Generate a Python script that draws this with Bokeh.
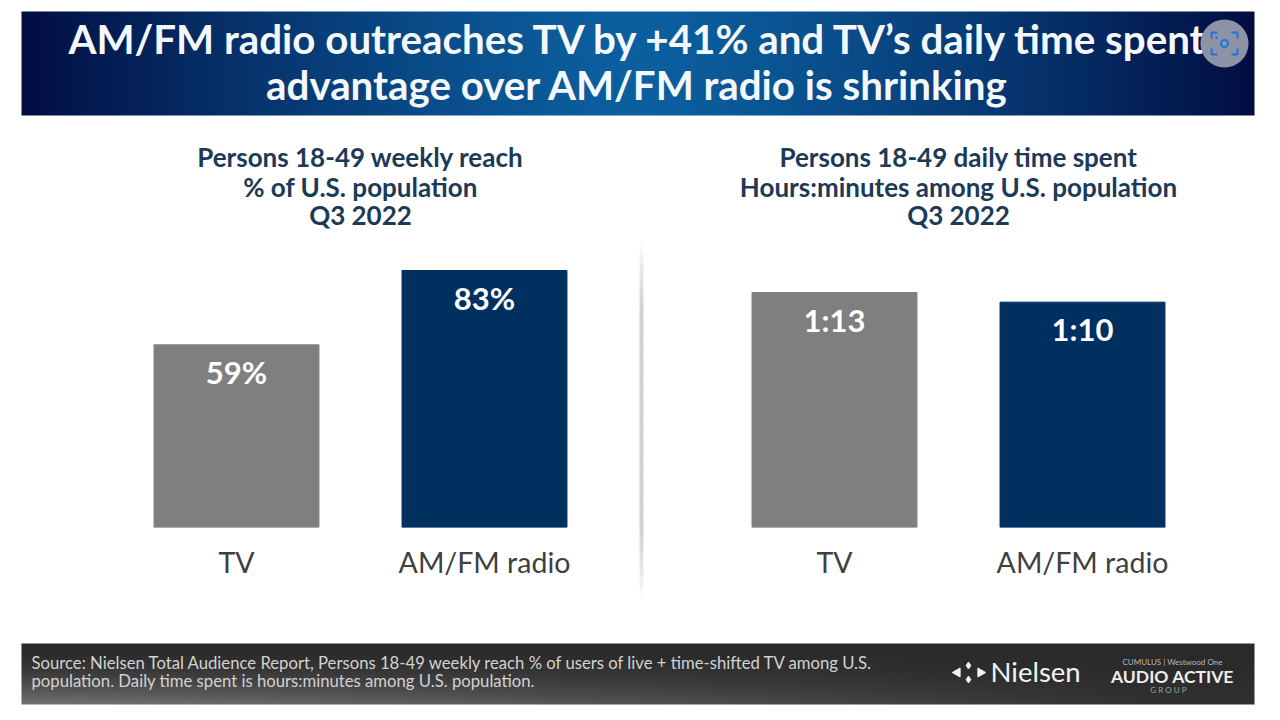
import numpy as np
from bokeh.plotting import figure
from bokeh.layouts import column, row
from bokeh.models import Range1d, FactorRange, ColumnDataSource
from bokeh.core.properties import value
from bokeh.embed import file_html
from bokeh.resources import INLINE

# ---------- data ----------
categories = ["TV", "AM/FM radio"]
reach_pct = [59, 83]
time_minutes = [73, 70]
bar_colors = ["#7f7f7f", "#003060"]
title_lines = ["AM/FM radio outreaches TV by +41% and TV\u2019s daily time spent",
               "advantage over AM/FM radio is shrinking"]
left_heading = ["Persons 18-49 weekly reach", "% of U.S. population", "Q3 2022"]
right_heading = ["Persons 18-49 daily time spent", "Hours:minutes among U.S. population", "Q3 2022"]
source_lines = ["Source: Nielsen Total Audience Report, Persons 18-49 weekly reach % of users of live + time-shifted TV among U.S.",
                "population. Daily time spent is hours:minutes among U.S. population."]

FONT = "Lato"

def blank(w, h, x0, x1, y0, y1):
    p = figure(width=w, height=h, x_range=Range1d(x0, x1), y_range=Range1d(y1, y0),
               output_backend="svg", toolbar_location=None, min_border=0,
               background_fill_color="white", border_fill_color="white")
    p.axis.visible = False
    p.grid.visible = False
    p.outline_line_color = None
    return p

def txt(p, x, y, s, size, color, style="normal", align="left", font=FONT):
    p.text([x], [y], text=[s], text_font=value(font), text_font_size=f"{size}px",
           text_color=color, text_font_style=style, text_align=align, text_baseline="middle")

# ---------- top: header band and headings ----------
top = blank(1272, 240, 0, 1272, 0, 240)
W, H = 1233, 104
t = np.abs(np.linspace(-1, 1, W))
grad = np.clip(1 - t ** 1.3, 0, 1)
edge, mid = np.array([2, 14, 66]), np.array([12, 96, 160])
rgba = np.zeros((H, W), dtype=np.uint32)
view = rgba.view(np.uint8).reshape(H, W, 4)
for c in range(3):
    view[:, :, c] = (edge[c] + (mid[c] - edge[c]) * grad).astype(np.uint8)
view[:, :, 3] = 255
top.image_rgba(image=[rgba], x=21, y=11, dw=1233, dh=104)

txt(top, 639, 38, title_lines[0], 40.3, "#f4f8fb", "bold", "center")
txt(top, 637, 84, title_lines[1], 40.3, "#f4f8fb", "bold", "center")

for y, s in zip([156, 186, 214], left_heading):
    txt(top, 360, y, s, 26, "#1b3a57", "bold", "center")
for y, s in zip([156, 186, 214], right_heading):
    txt(top, 958, y, s, 26, "#1b3a57", "bold", "center")

# screenshot badge
top.circle([1224], [43], radius=24, fill_color="#8d93a4", line_color=None)
top.multi_line(
    xs=[[1211, 1211, 1217], [1231, 1237, 1237], [1211, 1211, 1217], [1231, 1237, 1237]],
    ys=[[38, 32, 32], [32, 32, 38], [48, 54, 54], [54, 54, 48]],
    line_color="#1a73e8", line_width=2)
top.circle([1224], [43], radius=3.5, fill_color=None, line_color="#1a73e8", line_width=2)
top.circle([1216], [37], radius=1.2, fill_color="#1a73e8", line_color=None)

# ---------- bars ----------
def bar_chart(vals, labels, ymax, w, left, right):
    p = figure(width=w, height=400, x_range=FactorRange(factors=categories),
               y_range=Range1d(0, ymax), output_backend="svg", toolbar_location=None,
               min_border_left=left, min_border_right=right, min_border_top=0, min_border_bottom=113,
               background_fill_color="white", border_fill_color="white")
    src = ColumnDataSource(dict(cat=categories, val=vals, lab=labels, col=bar_colors))
    p.vbar(x="cat", top="val", width=0.665, color="col", source=src)
    p.text(x="cat", y="val", text="lab", source=src, text_font=value(FONT), text_font_style="bold",
           text_font_size="31px", text_color="white", text_align="center", text_baseline="middle",
           y_offset=27)
    p.yaxis.visible = False
    p.grid.visible = False
    p.outline_line_color = None
    ax = p.xaxis[0]
    ax.axis_line_color = None
    ax.major_tick_line_color = None
    ax.major_label_text_font = FONT
    ax.major_label_text_font_size = "28.5px"
    ax.major_label_text_color = "#404040"
    ax.major_label_standoff = 11
    return p

left = bar_chart(reach_pct, [f"{v}%" for v in reach_pct], 287 / (257 / 83), 632, 112, 24)
right = bar_chart(time_minutes, [f"{m // 60}:{m % 60:02d}" for m in time_minutes], 287 / (235 / 73), 624, 62, 66)

# ---------- divider (soft fading rule built from thin strips) ----------
div = figure(frame_width=16, frame_height=400, x_range=Range1d(632, 648), y_range=Range1d(640, 240),
             output_backend="svg", toolbar_location=None,
             min_border_left=0, min_border_right=0, min_border_top=0, min_border_bottom=0,
             background_fill_color="white", border_fill_color="white",
             x_axis_location=None, y_axis_location=None)
div.grid.visible = False
div.outline_line_color = None
edges = np.linspace(240, 600, 73)
yy = (edges[:-1] + edges[1:]) / 2
env = np.clip(np.minimum(yy - 240, 600 - yy) / 70, 0, 1)
for half, strength in [(3.0, 0.12), (2.0, 0.26), (1.0, 0.40)]:
    div.quad(left=641 - half, right=641 + half, top=edges[:-1], bottom=edges[1:],
             fill_color="#a8a8a8", fill_alpha=env * strength, line_color=None)

# ---------- footer ----------
foot = blank(1272, 72, 0, 1272, 640, 712)
FW, FH = 1233, 61
fx = np.linspace(0, 1, FW)
fy = np.linspace(0, 1, FH)
horiz = np.clip(1 - fx ** 1.2, 0.1, 1)
shade = 42 + np.outer(fy ** 1.8, 72 * horiz)
frgba = np.zeros((FH, FW), dtype=np.uint32)
fv = frgba.view(np.uint8).reshape(FH, FW, 4)
for c in range(3):
    fv[:, :, c] = shade.astype(np.uint8)
fv[:, :, 3] = 255
foot.image_rgba(image=[frgba], x=21, y=643, dw=1233, dh=61)
txt(foot, 31, 662, source_lines[0], 16.7, "#d2d2d2")
txt(foot, 31, 680, source_lines[1], 16.7, "#d2d2d2")
txt(foot, 990, 671, "Nielsen", 27.5, "#f2f2f2")
foot.scatter([957, 980], [672, 672], marker="triangle", size=9, angle=[np.pi / 2, -np.pi / 2], color="#f2f2f2")
foot.scatter([968, 968], [665, 679], marker="diamond", size=7, color="#f2f2f2")
txt(foot, 1172, 676, "AUDIO ACTIVE", 17.5, "#eeeeee", "bold", "center")
txt(foot, 1172, 689, "G  R  O  U  P", 8, "#a0a0a0", "normal", "center")
txt(foot, 1172, 661, "CUMULUS | Westwood One", 8, "#b8b8b8", "normal", "center")

page = column(top, row(left, div, right), foot)
open("out.html", "w").write(file_html(page, INLINE))
